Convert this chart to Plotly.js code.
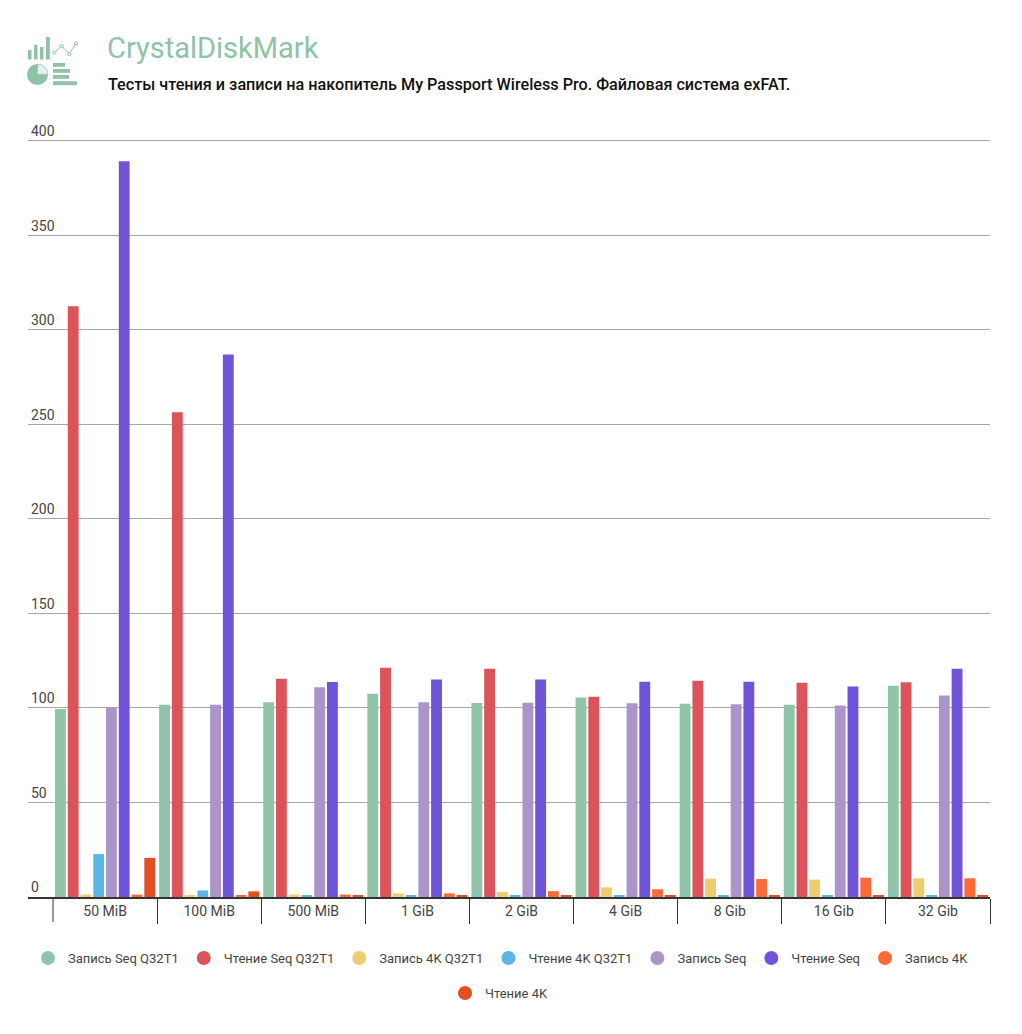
<!DOCTYPE html>
<html>
<head>
<meta charset="utf-8">
<script src="https://cdn.plot.ly/plotly-3.0.1.min.js"></script>
<style>
  body { margin: 0; background: #fff; }
  #wrap { position: relative; width: 1022px; height: 1034px; }
  #chart { width: 1022px; height: 1034px; }
  #logo { position: absolute; left: 0; top: 0; }
</style>
</head>
<body>
<div id="wrap">
  <div id="chart"></div>
  <svg id="logo" width="90" height="95" viewBox="0 0 90 95">
    <g fill="#8fc3a7">
      <rect x="28" y="50" width="3.5" height="9.5"/>
      <rect x="34" y="45" width="3.5" height="14.5"/>
      <rect x="40" y="47" width="3.5" height="12.5"/>
      <rect x="46" y="37" width="3.8" height="22.5"/>
      <rect x="53" y="63" width="12" height="3.8"/>
      <rect x="53" y="69" width="17" height="3.8"/>
      <rect x="53" y="75" width="16" height="3.8"/>
      <rect x="53" y="81.2" width="24" height="4"/>
      <path d="M37.5 74.5 L37.5 64 A10.5 10.5 0 1 0 48 74.5 Z"/>
    </g>
    <path d="M37.5 74.5 L37.5 64 A10.5 10.5 0 0 1 48 74.5 Z" fill="#e3f0e9" stroke="#8fc3a7" stroke-width="0.8"/>
    <polyline points="54.3,52.7 61.7,46 69.3,54 76,43.3" fill="none" stroke="#8fc3a7" stroke-width="1"/>
    <g fill="#fff" stroke="#8fc3a7" stroke-width="1">
      <circle cx="54.3" cy="52.7" r="1.6"/>
      <circle cx="61.7" cy="46" r="1.6"/>
      <circle cx="69.3" cy="54" r="1.6"/>
      <circle cx="76" cy="43.3" r="1.6"/>
    </g>
  </svg>
</div>
<script>
var categories = ['50 MiB', '100 MiB', '500 MiB', '1 GiB', '2 GiB', '4 GiB', '8 Gib', '16 Gib', '32 Gib'];
var seriesNames = ['Запись Seq Q32T1', 'Чтение Seq Q32T1', 'Запись 4K Q32T1', 'Чтение 4K Q32T1',
                   'Запись Seq', 'Чтение Seq', 'Запись 4K', 'Чтение 4K'];
var seriesColors = ['#8fc4a8', '#dc5359', '#eecd6e', '#5cb6e3', '#aa94c8', '#6f53d9', '#fd6a36', '#e24f22'];

var writeSeqQ32 = [99.5, 101.7, 103.0, 107.5, 102.6, 105.5, 102.2, 101.7, 111.8];
var readSeqQ32  = [312.5, 256.4, 115.5, 121.3, 120.8, 105.9, 114.4, 113.4, 113.6];
var write4kQ32  = [1.3, 0.8, 1.3, 1.9, 2.6, 5.1, 9.7, 9.2, 9.9];
var read4kQ32   = [22.7, 3.5, 0.8, 0.6, 0.6, 0.6, 0.6, 0.6, 0.6];
var writeSeq    = [100.0, 101.7, 110.9, 103.0, 102.8, 102.5, 102.0, 101.3, 106.6];
var readSeq     = [389.2, 287.0, 113.7, 115.0, 115.0, 113.9, 113.9, 111.3, 120.8];
var write4k     = [1.3, 0.8, 1.3, 1.9, 3.1, 4.1, 9.5, 10.2, 9.9];
var read4k      = [20.7, 3.0, 0.6, 0.6, 0.6, 0.6, 0.6, 0.6, 0.6];

var seriesValues = [writeSeqQ32, readSeqQ32, write4kQ32, read4kQ32, writeSeq, readSeq, write4k, read4k];

var traces = [];
seriesValues.forEach(function (vals, i) {
    traces.push({
        x: categories,
        y: vals,
        name: seriesNames[i],
        type: 'bar',
        marker: { color: seriesColors[i] },
        showlegend: false,
        hoverinfo: 'x+y+name'
    });
});
// legend entries drawn as circles
seriesNames.forEach(function (name, i) {
    traces.push({
        x: [null],
        y: [null],
        name: name,
        type: 'scatter',
        mode: 'markers',
        marker: { color: seriesColors[i], size: 14, symbol: 'circle' },
        legend: i < 7 ? 'legend' : 'legend2'
    });
});

var legendFont = { family: 'Roboto, sans-serif', size: 13, color: '#444' };

// 1.89 px per unit; range goes a little above 400 so the top label fits
var yTop = 410;
var plotH = 1034 - 137 - 122;

var layout = {
    width: 1022,
    height: 1034,
    margin: { l: 28, r: 32, t: 122, b: 137 },
    paper_bgcolor: '#fff',
    plot_bgcolor: '#fff',
    font: { family: 'Roboto, sans-serif', color: '#444' },
    barmode: 'group',
    bargap: 0.02,
    bargroupgap: 0.15,
    title: {
        text: 'CrystalDiskMark',
        font: { family: 'Roboto, sans-serif', size: 29, color: '#8fc3a7' },
        xref: 'container', x: 107 / 1022, xanchor: 'left',
        yref: 'container', y: 1 - 48 / 1034, yanchor: 'middle'
    },
    annotations: [{
        text: 'Тесты чтения и записи на накопитель My Passport Wireless Pro. Файловая система exFAT.',
        xref: 'paper', yref: 'paper',
        x: (106 - 28) / 962, y: (897 - 85) / plotH,
        xanchor: 'left', yanchor: 'middle',
        showarrow: false,
        font: { family: 'Roboto, sans-serif', size: 16.2, color: '#111', weight: 500 }
    }],
    shapes: [{
        type: 'line', xref: 'x', yref: 'paper',
        x0: -0.5, x1: -0.5, y0: 0, y1: -25 / plotH,
        line: { color: '#333', width: 1 }
    }],
    xaxis: {
        type: 'category',
        range: [-0.5 - 25 / 104, 8.5],
        showline: true,
        linecolor: '#333',
        linewidth: 2,
        ticks: 'outside',
        tickson: 'boundaries',
        ticklen: 25,
        tickwidth: 1,
        tickcolor: '#333',
        ticklabelstandoff: 0,
        tickfont: { family: 'Roboto, sans-serif', size: 14, color: '#444' },
        showgrid: false,
        fixedrange: true
    },
    yaxis: {
        range: [0, yTop],
        tickvals: [0, 50, 100, 150, 200, 250, 300, 350, 400],
        showgrid: true,
        gridcolor: '#a6a6a6',
        gridwidth: 1,
        zeroline: false,
        ticks: '',
        ticklabelposition: 'inside top',
        tickfont: { family: 'Roboto, sans-serif', size: 14, color: '#444' },
        fixedrange: true
    },
    legend: {
        orientation: 'h',
        xref: 'container', x: 501 / 1022, xanchor: 'center',
        yref: 'container', y: 1 - 943 / 1034, yanchor: 'top',
        itemwidth: 30,
        font: legendFont
    },
    legend2: {
        orientation: 'h',
        xref: 'container', x: 499 / 1022, xanchor: 'center',
        yref: 'container', y: 1 - 978 / 1034, yanchor: 'top',
        itemwidth: 30,
        font: legendFont
    }
};

Plotly.newPlot('chart', traces, layout, { displayModeBar: false, responsive: false });
</script>
</body>
</html>
